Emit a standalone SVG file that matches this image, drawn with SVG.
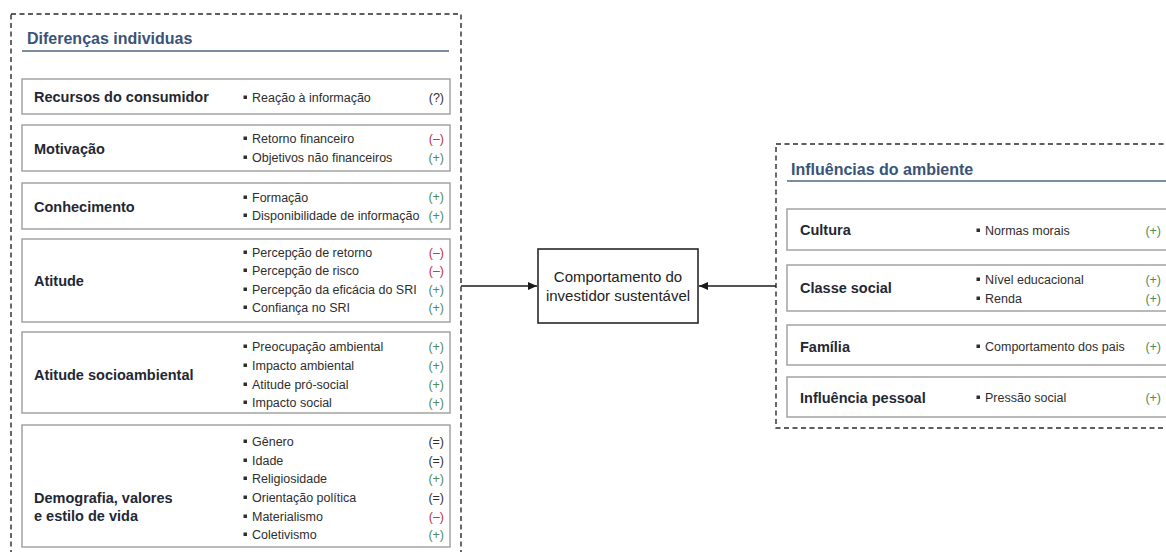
<svg xmlns="http://www.w3.org/2000/svg" width="1166" height="552" viewBox="0 0 1166 552">
<style>
.dash{fill:none;stroke:#2a2a2a;stroke-width:1.4;stroke-dasharray:5 3.5}
.box{fill:#fff;stroke:#a3a3a3;stroke-width:1.5}
.uline{stroke:#7d8ca3;stroke-width:2}
.title{font-family:"Liberation Sans",Arial,sans-serif;font-weight:bold;font-size:16px;fill:#3a5378}
.lbl{font-family:"Liberation Sans",Arial,sans-serif;font-weight:bold;font-size:14.5px;fill:#1f2833}
.it{font-family:"Liberation Sans",Arial,sans-serif;font-size:12.5px;fill:#2e2e2e}
.v{font-family:"Liberation Sans",Arial,sans-serif;font-size:12.5px;text-anchor:end}
.pos{fill:#4f8a5c}
.neg{fill:#c0303a}
.neu{fill:#2e2e2e}
.bul{fill:#2e2e2e}
.ctr{font-family:"Liberation Sans",Arial,sans-serif;font-size:15px;fill:#222;text-anchor:middle}
.conn{stroke:#1a1a1a;stroke-width:1.5;fill:none}
</style>
<defs>
<marker id="ah" markerWidth="10" markerHeight="10" refX="9" refY="5" orient="auto" markerUnits="userSpaceOnUse">
<path d="M0,1 L9,5 L0,9 Z" fill="#1a1a1a"/>
</marker>
</defs>

<g id="individual-differences">
<rect class="dash" x="11" y="14" width="450" height="560"/>
<text class="title" x="27" y="44">Diferenças individuas</text>
<line class="uline" x1="22" y1="51" x2="449" y2="51"/>
</g>

<g id="recursos">
<rect class="box" x="22" y="79" width="428" height="35"/>
<text class="lbl" x="34" y="102">Recursos do consumidor</text>
<rect class="bul" x="243.5" y="95.5" width="3.5" height="3.5"/>
<text class="it" x="252" y="101.5">Reação à informação</text>
<text class="v neu" x="444" y="101.5">(?)</text>
</g>

<g id="motivacao">
<rect class="box" x="22" y="125" width="428" height="46"/>
<text class="lbl" x="34" y="154">Motivação</text>
<rect class="bul" x="243.5" y="136.5" width="3.5" height="3.5"/>
<text class="it" x="252" y="142.5">Retorno financeiro</text>
<text class="v neg" x="444" y="142.5">(–)</text>
<rect class="bul" x="243.5" y="155.5" width="3.5" height="3.5"/>
<text class="it" x="252" y="161.5">Objetivos não financeiros</text>
<text class="v pos" x="444" y="161.5">(+)</text>
</g>

<g id="conhecimento">
<rect class="box" x="22" y="183" width="428" height="46"/>
<text class="lbl" x="34" y="212">Conhecimento</text>
<rect class="bul" x="243.5" y="195.5" width="3.5" height="3.5"/>
<text class="it" x="252" y="201.5">Formação</text>
<text class="v pos" x="444" y="200.5">(+)</text>
<rect class="bul" x="243.5" y="213.5" width="3.5" height="3.5"/>
<text class="it" x="252" y="219.5">Disponibilidade de informação</text>
<text class="v pos" x="444" y="219.5">(+)</text>
</g>

<g id="atitude">
<rect class="box" x="22" y="239" width="428" height="83"/>
<text class="lbl" x="34" y="286">Atitude</text>
<rect class="bul" x="243.5" y="250.5" width="3.5" height="3.5"/>
<text class="it" x="252" y="256.5">Percepção de retorno</text>
<text class="v neg" x="444" y="256.5">(–)</text>
<rect class="bul" x="243.5" y="268.5" width="3.5" height="3.5"/>
<text class="it" x="252" y="274.5">Percepção de risco</text>
<text class="v neg" x="444" y="274.5">(–)</text>
<rect class="bul" x="243.5" y="287.5" width="3.5" height="3.5"/>
<text class="it" x="252" y="293.5">Percepção da eficácia do SRI</text>
<text class="v pos" x="444" y="293.5">(+)</text>
<rect class="bul" x="243.5" y="305.5" width="3.5" height="3.5"/>
<text class="it" x="252" y="311.5">Confiança no SRI</text>
<text class="v pos" x="444" y="312">(+)</text>
</g>

<g id="atitude-socioambiental">
<rect class="box" x="22" y="332" width="428" height="81"/>
<text class="lbl" x="34" y="380">Atitude socioambiental</text>
<rect class="bul" x="243.5" y="344.5" width="3.5" height="3.5"/>
<text class="it" x="252" y="350.5">Preocupação ambiental</text>
<text class="v pos" x="444" y="350.5">(+)</text>
<rect class="bul" x="243.5" y="363.5" width="3.5" height="3.5"/>
<text class="it" x="252" y="369.5">Impacto ambiental</text>
<text class="v pos" x="444" y="369.5">(+)</text>
<rect class="bul" x="243.5" y="382.5" width="3.5" height="3.5"/>
<text class="it" x="252" y="388.5">Atitude pró-social</text>
<text class="v pos" x="444" y="388.5">(+)</text>
<rect class="bul" x="243.5" y="400.5" width="3.5" height="3.5"/>
<text class="it" x="252" y="406.5">Impacto social</text>
<text class="v pos" x="444" y="406.5">(+)</text>
</g>

<g id="demografia">
<rect class="box" x="22" y="425" width="428" height="122"/>
<text class="lbl" x="34" y="503">Demografia, valores</text>
<text class="lbl" x="34" y="521">e estilo de vida</text>
<rect class="bul" x="243.5" y="439.5" width="3.5" height="3.5"/>
<text class="it" x="252" y="445.5">Gênero</text>
<text class="v neu" x="444" y="445.5">(=)</text>
<rect class="bul" x="243.5" y="458.5" width="3.5" height="3.5"/>
<text class="it" x="252" y="464.5">Idade</text>
<text class="v neu" x="444" y="464.5">(=)</text>
<rect class="bul" x="243.5" y="476.5" width="3.5" height="3.5"/>
<text class="it" x="252" y="482.5">Religiosidade</text>
<text class="v pos" x="444" y="482.5">(+)</text>
<rect class="bul" x="243.5" y="495.5" width="3.5" height="3.5"/>
<text class="it" x="252" y="501.5">Orientação política</text>
<text class="v neu" x="444" y="501.5">(=)</text>
<rect class="bul" x="243.5" y="514.5" width="3.5" height="3.5"/>
<text class="it" x="252" y="520.5">Materialismo</text>
<text class="v neg" x="444" y="520.5">(–)</text>
<rect class="bul" x="243.5" y="532.5" width="3.5" height="3.5"/>
<text class="it" x="252" y="538.5">Coletivismo</text>
<text class="v pos" x="444" y="538.5">(+)</text>
</g>

<g id="comportamento">
<rect x="538" y="249" width="160" height="74" fill="#fff" stroke="#1a1a1a" stroke-width="1.5"/>
<text class="ctr" x="618" y="282">Comportamento do</text>
<text class="ctr" x="618" y="301">investidor sustentável</text>
</g>

<g id="environment-influences">
<rect class="dash" x="776" y="144" width="400" height="284"/>
<text class="title" x="791" y="175">Influências do ambiente</text>
<line class="uline" x1="787" y1="181" x2="1170" y2="181"/>
</g>

<g id="cultura">
<rect class="box" x="787" y="209" width="390" height="41"/>
<text class="lbl" x="800" y="235">Cultura</text>
<rect class="bul" x="976.5" y="228.5" width="3.5" height="3.5"/>
<text class="it" x="985" y="234.5">Normas morais</text>
<text class="v pos" x="1161" y="234.5">(+)</text>
</g>

<g id="classe-social">
<rect class="box" x="787" y="265" width="390" height="46"/>
<text class="lbl" x="800" y="293">Classe social</text>
<rect class="bul" x="976.5" y="277.5" width="3.5" height="3.5"/>
<text class="it" x="985" y="283.5">Nível educacional</text>
<text class="v pos" x="1161" y="283.5">(+)</text>
<rect class="bul" x="976.5" y="296.5" width="3.5" height="3.5"/>
<text class="it" x="985" y="302.5">Renda</text>
<text class="v pos" x="1161" y="302.5">(+)</text>
</g>

<g id="familia">
<rect class="box" x="787" y="325" width="390" height="40"/>
<text class="lbl" x="800" y="352">Família</text>
<rect class="bul" x="976.5" y="344.5" width="3.5" height="3.5"/>
<text class="it" x="985" y="350.5">Comportamento dos pais</text>
<text class="v pos" x="1161" y="350.5">(+)</text>
</g>

<g id="influencia-pessoal">
<rect class="box" x="787" y="377" width="390" height="40"/>
<text class="lbl" x="800" y="403">Influência pessoal</text>
<rect class="bul" x="976.5" y="395.5" width="3.5" height="3.5"/>
<text class="it" x="985" y="401.5">Pressão social</text>
<text class="v pos" x="1161" y="401.5">(+)</text>
</g>

<g id="connectors">
<line class="conn" x1="461" y1="286" x2="537" y2="286" marker-end="url(#ah)"/>
<line class="conn" x1="776" y1="286" x2="699" y2="286" marker-end="url(#ah)"/>
</g>
</svg>
